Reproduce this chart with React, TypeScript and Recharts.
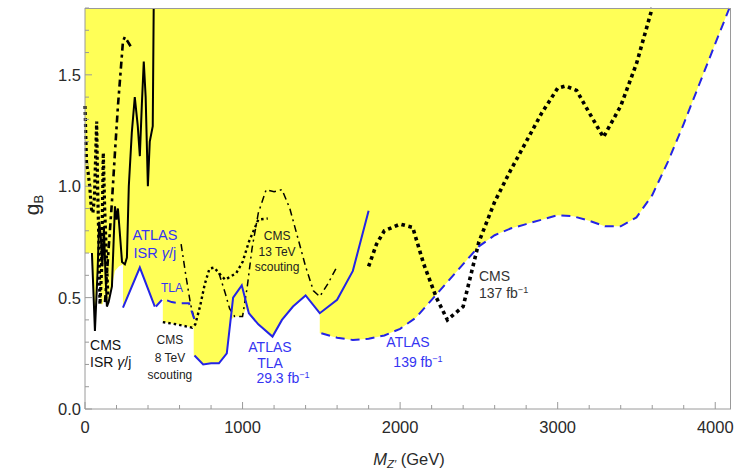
import React from 'react';
import { ComposedChart, Line, Area, XAxis, YAxis, ReferenceDot } from 'recharts';

// [M_Z' in GeV, g_B] pairs for each limit curve
const cmsIsrSolid = [
  [44, 0.7], [63, 0.35], [80, 0.62], [90, 0.84], [100, 0.78], [110, 0.64], [120, 0.82], [130, 0.6],
  [139, 0.46], [150, 0.48], [171, 0.55], [190, 0.91], [200, 0.85], [209, 0.9], [220, 0.8], [235, 0.66],
  [253, 0.65], [266, 0.68], [278, 1.0], [297, 1.24], [316, 1.4], [335, 1.27], [348, 1.135], [361, 1.37],
  [373, 1.56], [385, 1.4], [399, 1.0], [411, 1.2], [430, 1.27], [436, 1.8],
];
const cmsIsrDotted = [
  [0, 1.36], [10, 1.1], [20, 1.06], [30, 1.0], [40, 0.9], [50, 0.88], [60, 0.95], [74, 1.29], [80, 1.0],
  [88, 0.75], [95, 0.47], [105, 0.62], [116, 1.15], [125, 0.9], [135, 0.7], [145, 0.5],
];
const cmsDijetDashDot = [
  [127, 0.48], [150, 0.72], [170, 0.92], [190, 1.15], [209, 1.36], [241, 1.65], [253, 1.67], [297, 1.62],
];
const cms8TeV = [
  [494, 0.39], [582, 0.38], [680, 0.365], [700, 0.38], [730, 0.46], [760, 0.56], [790, 0.63], [820, 0.635],
  [850, 0.61], [890, 0.58], [960, 0.61], [1000, 0.66], [1040, 0.75], [1100, 0.85], [1160, 0.855],
];
const cms13TeVLow = [[610, 0.74], [640, 0.6], [670, 0.47], [695, 0.4]];
const cms13TeV = [
  [850, 0.61], [890, 0.52], [918, 0.45], [950, 0.415], [1000, 0.415], [1030, 0.55], [1060, 0.72],
  [1100, 0.88], [1150, 0.985], [1200, 0.975], [1250, 0.985], [1300, 0.9], [1350, 0.77], [1400, 0.64],
  [1450, 0.53], [1490, 0.505], [1540, 0.56], [1600, 0.64],
];
const cms137 = [
  [1800, 0.64], [1850, 0.74], [1900, 0.8], [2000, 0.83], [2080, 0.815], [2150, 0.65], [2230, 0.5],
  [2300, 0.4], [2400, 0.46], [2500, 0.75], [2600, 0.93], [2700, 1.07], [2800, 1.2], [2900, 1.33],
  [3000, 1.44], [3050, 1.45], [3120, 1.43], [3200, 1.33], [3290, 1.22], [3400, 1.36], [3500, 1.55], [3600, 1.8],
];
const atlasIsr = [[241, 0.455], [348, 0.635], [443, 0.46]];
const atlasTlaLow = [[450, 0.46], [494, 0.495], [550, 0.48], [600, 0.475], [660, 0.475], [695, 0.4]];
const atlasTla = [
  [695, 0.24], [750, 0.2], [800, 0.205], [850, 0.205], [900, 0.25], [940, 0.5], [995, 0.555], [1040, 0.43],
  [1100, 0.38], [1190, 0.325], [1250, 0.4], [1320, 0.46], [1400, 0.51], [1490, 0.43], [1600, 0.49],
  [1700, 0.62], [1800, 0.89],
];
const atlas139 = [
  [1500, 0.34], [1600, 0.32], [1700, 0.31], [1800, 0.315], [1900, 0.33], [2000, 0.36], [2100, 0.41],
  [2200, 0.49], [2300, 0.57], [2400, 0.65], [2500, 0.73], [2600, 0.78], [2700, 0.81], [2800, 0.83],
  [2900, 0.85], [3000, 0.87], [3100, 0.865], [3200, 0.845], [3300, 0.82], [3400, 0.82], [3500, 0.86],
  [3600, 0.96], [3700, 1.11], [3800, 1.28], [3900, 1.46], [4000, 1.64], [4090, 1.8],
];
// lower edge of the excluded (shaded) region
const excluded = [
  [0, 0.7], [44, 0.7], [63, 0.35], [75, 0.6], [90, 0.62], [100, 0.47], [112, 0.47], [125, 0.52],
  [140, 0.46], [150, 0.5], [171, 0.55], [190, 0.62], [215, 0.64], [241, 0.65], [241, 0.455], [348, 0.635],
  [443, 0.46], [494, 0.495], [494, 0.39], [582, 0.38], [690, 0.365], [690, 0.24], [750, 0.2], [850, 0.205],
  [900, 0.25], [925, 0.4], [950, 0.415], [1000, 0.415], [1020, 0.45], [1040, 0.43], [1100, 0.38],
  [1190, 0.325], [1250, 0.4], [1320, 0.46], [1400, 0.51], [1490, 0.43], [1490, 0.34], [1600, 0.32],
  [1700, 0.31], [1800, 0.315], [1900, 0.33], [2000, 0.36], [2100, 0.41], [2200, 0.49], [2300, 0.57],
  [2400, 0.65], [2500, 0.73], [2600, 0.78], [2700, 0.81], [2800, 0.83], [2900, 0.85], [3000, 0.87],
  [3100, 0.865], [3200, 0.845], [3300, 0.82], [3400, 0.82], [3500, 0.86], [3600, 0.96], [3700, 1.11],
  [3800, 1.28], [3900, 1.46], [4000, 1.64], [4090, 1.8],
];

const X_MAX = 4100;
const Y_MAX = 1.8;
const xTicks = [0, 200, 400, 600, 800, 1000, 1200, 1400, 1600, 1800, 2000, 2200, 2400, 2600, 2800, 3000, 3200, 3400, 3600, 3800, 4000];
const xMajor = [0, 1000, 2000, 3000, 4000];
const yTicks = [0, 0.1, 0.2, 0.3, 0.4, 0.5, 0.6, 0.7, 0.8, 0.9, 1, 1.1, 1.2, 1.3, 1.4, 1.5, 1.6, 1.7, 1.8];
const yMajor = [0, 0.5, 1, 1.5];

const FONT = '"Liberation Sans", Arial, sans-serif';
const FRAME = '#9a9a9a';
const LABEL = '#2a2a2a';
const BLUE = '#2424e6';
const BLUE_TEXT = '#3535f2';
const YELLOW = '#ffff57';
const GAP = 10;
const W = 754;
const H = 471;
const MARGIN = { top: 8, right: 23, bottom: 2, left: 25 };
const Y_AXIS_W = 60;
const X_AXIS_H = 60;

const toPts = (rows: number[][]) => rows.map(([m, g]) => ({ m, g }));

const fmtY = (v: number) => v.toFixed(1);

const BottomTick = ({ x, y, payload }: any) => {
  const major = xMajor.includes(payload.value);
  const y0 = y - GAP;
  return (
    <g>
      <line x1={x} x2={x} y1={y0} y2={y0 - (major ? 7 : 4)} stroke={FRAME} />
      {major && (
        <text x={x} y={y0 + 24} textAnchor="middle" fontSize={16.5} fill={LABEL} fontFamily={FONT}>
          {payload.value}
        </text>
      )}
    </g>
  );
};

const LeftTick = ({ x, y, payload }: any) => {
  const major = yMajor.includes(payload.value);
  const x0 = x + GAP;
  return (
    <g>
      <line x1={x0} x2={x0 + (major ? 7 : 4)} y1={y} y2={y} stroke={FRAME} />
      {major && (
        <text x={x0 - 4} y={y + 6} textAnchor="end" fontSize={16.5} fill={LABEL} fontFamily={FONT}>
          {fmtY(payload.value)}
        </text>
      )}
    </g>
  );
};

type Part = { t: string; it?: boolean; sup?: boolean };
type NoteLine = { parts: Part[]; dx?: number };
type Note = {
  m: number; g: number; color: string; size: number; gap: number;
  anchor: 'start' | 'middle'; lines: NoteLine[];
};

const fb = (lumi: string): Part[] => [{ t: `${lumi} fb` }, { t: '−1', sup: true }];
const isr: Part[] = [{ t: 'ISR ' }, { t: 'γ', it: true }, { t: '/j' }];

const notes: Note[] = [
  { m: 32, g: 0.287, color: '#111', size: 14, gap: 17, anchor: 'start',
    lines: [{ parts: [{ t: 'CMS' }] }, { parts: isr }] },
  { m: 444, g: 0.781, color: BLUE_TEXT, size: 14.5, gap: 18, anchor: 'middle',
    lines: [{ parts: [{ t: 'ATLAS' }] }, { parts: isr }] },
  { m: 552, g: 0.543, color: BLUE_TEXT, size: 12, gap: 0, anchor: 'middle',
    lines: [{ parts: [{ t: 'TLA' }] }] },
  { m: 539, g: 0.31, color: '#222', size: 12, gap: 17.5, anchor: 'middle',
    lines: [{ parts: [{ t: 'CMS' }] }, { parts: [{ t: '8 TeV' }] }, { parts: [{ t: 'scouting' }] }] },
  { m: 1219, g: 0.776, color: '#222', size: 12, gap: 15.5, anchor: 'middle',
    lines: [{ parts: [{ t: 'CMS' }] }, { parts: [{ t: '13 TeV' }] }, { parts: [{ t: 'scouting' }] }] },
  { m: 1174, g: 0.278, color: BLUE_TEXT, size: 14, gap: 15.5, anchor: 'middle',
    lines: [{ parts: [{ t: 'ATLAS' }] }, { parts: [{ t: 'TLA' }] }, { parts: fb('29.3'), dx: 13 }] },
  { m: 2050, g: 0.301, color: BLUE_TEXT, size: 14, gap: 20, anchor: 'middle',
    lines: [{ parts: [{ t: 'ATLAS' }] }, { parts: fb('139'), dx: 10 }] },
  { m: 2500, g: 0.597, color: '#333', size: 14, gap: 17, anchor: 'start',
    lines: [{ parts: [{ t: 'CMS' }] }, { parts: fb('137') }] },
];

const NoteText = ({ viewBox, note }: any) => {
  const cx = viewBox.x + viewBox.width / 2;
  const cy = viewBox.y + viewBox.height / 2;
  const n: Note = note;
  return (
    <text fill={n.color} fontSize={n.size} fontFamily={FONT} textAnchor={n.anchor}>
      {n.lines.map((ln, i) => (
        <tspan key={i} x={cx + (ln.dx || 0)} y={cy + i * n.gap + n.size * 0.36}>
          {ln.parts.map((p, j) =>
            p.sup ? (
              <tspan key={j} dy={-n.size * 0.38} fontSize={n.size * 0.65}>{p.t}</tspan>
            ) : (
              <tspan key={j} fontStyle={p.it ? 'italic' : 'normal'}>{p.t}</tspan>
            )
          )}
        </tspan>
      ))}
    </text>
  );
};

const YTitle = () => (
  <text transform="translate(39,205) rotate(-90)" textAnchor="middle" fontFamily={FONT} fill={LABEL} fontSize={21}>
    g<tspan dy={4} fontSize={13}>B</tspan>
  </text>
);

const XTitle = () => (
  <text x={409} y={465} textAnchor="middle" fontFamily={FONT} fill={LABEL} fontSize={16.5}>
    <tspan fontStyle="italic">M</tspan>
    <tspan dy={3} fontSize={11.5} fontStyle="italic">Z′</tspan>
    <tspan dy={-3}> (GeV)</tspan>
  </text>
);

// plain border for the top and right sides of the plot frame
const plotBox = {
  left: MARGIN.left + Y_AXIS_W,
  top: MARGIN.top,
  width: W - MARGIN.left - MARGIN.right - Y_AXIS_W,
  height: H - MARGIN.top - MARGIN.bottom - X_AXIS_H,
};

export default function App() {
  return (
    <div style={{ position: 'relative', width: W, height: H, background: '#fff' }}>
      <style>{'body{margin:0}'}</style>
      <ComposedChart width={W} height={H} margin={MARGIN}>
        <XAxis dataKey="m" type="number" domain={[0, X_MAX]} ticks={xTicks} interval={0}
          tickSize={0} tickMargin={GAP} tick={<BottomTick />} axisLine={{ stroke: FRAME }} height={X_AXIS_H}
          label={{ content: () => <XTitle /> }} />
        <YAxis type="number" domain={[0, Y_MAX]} ticks={yTicks} interval={0} tickSize={0}
          tickMargin={GAP} tick={<LeftTick />} axisLine={{ stroke: FRAME }} width={Y_AXIS_W}
          label={{ content: () => <YTitle /> }} />

        <Area data={toPts(excluded)} dataKey="g" type="linear" baseValue="dataMax" fill={YELLOW}
          fillOpacity={1} stroke="none" isAnimationActive={false} />

        <Line data={toPts(cmsIsrDotted)} dataKey="g" type="linear" stroke="#000" strokeWidth={3.2}
          strokeDasharray="3 3" dot={false} isAnimationActive={false} />
        <Line data={toPts(cmsDijetDashDot)} dataKey="g" type="linear" stroke="#000" strokeWidth={2.6}
          strokeDasharray="7 4 3 4" dot={false} isAnimationActive={false} />
        <Line data={toPts(cmsIsrSolid)} dataKey="g" type="linear" stroke="#000" strokeWidth={2}
          dot={false} isAnimationActive={false} />
        <Line data={toPts(cms8TeV)} dataKey="g" type="linear" stroke="#000" strokeWidth={2.4}
          strokeDasharray="2.5 3" dot={false} isAnimationActive={false} />
        <Line data={toPts(cms13TeVLow)} dataKey="g" type="linear" stroke="#000" strokeWidth={1.5}
          strokeDasharray="7 4 2 4" dot={false} isAnimationActive={false} />
        <Line data={toPts(cms13TeV)} dataKey="g" type="linear" stroke="#000" strokeWidth={1.5}
          strokeDasharray="7 4 2 4" dot={false} isAnimationActive={false} />
        <Line data={toPts(cms137)} dataKey="g" type="linear" stroke="#000" strokeWidth={3.6}
          strokeDasharray="3.6 3.6" dot={false} isAnimationActive={false} />
        <Line data={toPts(atlasIsr)} dataKey="g" type="linear" stroke={BLUE} strokeWidth={2}
          dot={false} isAnimationActive={false} />
        <Line data={toPts(atlasTlaLow)} dataKey="g" type="linear" stroke={BLUE} strokeWidth={2}
          strokeDasharray="9 6" dot={false} isAnimationActive={false} />
        <Line data={toPts(atlasTla)} dataKey="g" type="linear" stroke={BLUE} strokeWidth={2}
          dot={false} isAnimationActive={false} />
        <Line data={toPts(atlas139)} dataKey="g" type="linear" stroke={BLUE} strokeWidth={2}
          strokeDasharray="9 6" dot={false} isAnimationActive={false} />

        {notes.map((n, i) => (
          <ReferenceDot key={i} x={n.m} y={n.g} r={1} fill="none" stroke="none" ifOverflow="visible"
            label={<NoteText note={n} />} />
        ))}
      </ComposedChart>
      <div
        style={{
          position: 'absolute',
          left: plotBox.left,
          top: plotBox.top,
          width: plotBox.width,
          height: plotBox.height,
          borderTop: `1px solid ${FRAME}`,
          borderRight: `1px solid ${FRAME}`,
          boxSizing: 'border-box',
          pointerEvents: 'none',
        }}
      />
    </div>
  );
}
